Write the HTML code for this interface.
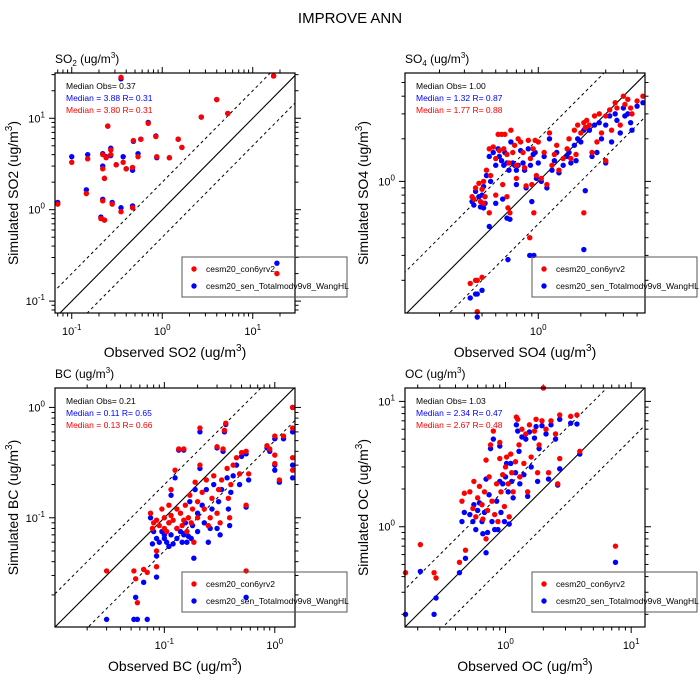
<!DOCTYPE html>
<html><head><meta charset="utf-8"><style>
html,body{margin:0;padding:0;background:#fff;width:700px;height:700px;overflow:hidden}
svg{display:block;font-family:"Liberation Sans",sans-serif}
</style></head><body>
<svg id="chart" width="700" height="700" viewBox="0 0 700 700" xmlns="http://www.w3.org/2000/svg">
<text x="350" y="23" font-size="15" text-anchor="middle">IMPROVE ANN</text>
</svg>
<script>
// SO2 panel data: observed, red sim, blue sim
const so2Obs=[0.07,0.1,0.15,0.145,0.21,0.23,0.22,0.22,0.23,0.22,0.24,0.25,0.27,0.27,0.28,0.31,0.35,0.35,0.37,0.4,0.47,0.47,0.48,0.54,0.58,0.7,0.85,0.87,1.2,1.5,1.65,2.7,4.0,5.3,17,18.5];
const so2Red=[1.15,3.3,3.6,1.5,0.8,0.77,2.8,4.0,2.2,1.25,3.7,8.2,4.5,4.0,1.15,3.1,0.95,28,3.3,2.8,2.9,1.05,5.7,3.8,5.9,8.8,6.3,3.8,3.7,5.9,4.8,10.3,16,11.3,29,0.2];
const so2Blue=[1.2,3.8,4.0,1.65,0.83,0.77,3.0,4.1,2.2,1.3,3.8,8.2,4.7,3.9,1.2,3.1,1.05,27,3.8,2.8,2.7,1.1,5.6,4.1,5.9,9.0,6.4,3.7,3.7,5.9,4.8,10.3,16,11.3,29,0.26];
// SO4
const so4Obs=[0.33,0.36,0.37,0.37,0.4,0.34,0.35,0.36,0.38,0.39,0.4,0.41,0.41,0.42,0.43,0.45,0.45,0.46,0.48,0.5,0.5,0.52,0.53,0.55,0.56,0.57,0.58,0.6,0.6,0.61,0.62,0.63,0.64,0.66,0.68,0.7,0.7,0.72,0.75,0.78,0.8,0.82,0.85,0.87,0.88,0.9,0.92,0.93,0.95,0.97,1.0,1.05,1.1,1.15,1.2,1.25,1.3,1.35,1.4,1.5,1.6,1.65,1.7,1.8,1.85,1.9,2.0,2.1,2.1,2.15,2.2,2.3,2.4,2.5,2.6,2.7,2.8,3.0,3.0,3.2,3.3,3.5,3.6,3.8,4.0,4.1,4.3,4.5,4.6,5.0,5.5];
const so4Red=[0.19,0.2,0.12,0.2,0.21,0.78,0.75,0.9,0.97,0.72,0.88,0.7,1.0,0.78,1.2,0.6,1.7,1.1,1.75,1.45,0.8,2.15,1.65,2.15,0.95,1.7,2.15,1.55,0.78,0.65,1.35,0.6,2.3,1.6,1.8,1.3,1.05,2.0,1.9,1.6,1.25,0.93,1.95,0.4,1.45,0.95,1.7,0.6,1.95,1.1,1.9,1.05,1.6,0.95,2.2,1.3,1.55,1.8,1.2,1.45,1.7,2.0,1.45,2.3,1.55,2.5,2.2,2.6,0.6,2.4,2.7,2.5,1.6,2.9,1.9,3.0,2.2,2.9,1.4,3.2,2.3,3.6,3.3,2.5,4.0,3.5,3.8,3.3,3.0,3.7,4.0];
const so4Blue=[0.15,0.16,0.11,0.16,0.17,0.72,0.68,0.85,0.78,0.66,0.8,0.65,0.92,0.7,1.1,0.48,1.5,1.0,1.6,1.3,0.7,1.7,1.5,1.4,0.75,1.3,1.6,1.35,0.55,0.28,1.2,0.54,1.9,1.35,1.3,1.2,0.95,1.3,1.65,1.35,1.2,0.9,1.7,0.3,1.3,0.72,1.55,0.3,1.6,1.05,1.35,1.0,1.5,0.9,2.0,1.2,1.4,1.6,1.15,1.3,1.5,1.6,1.35,1.8,1.4,2.0,1.9,2.3,0.33,0.86,2.4,2.3,1.5,2.5,1.6,2.6,2.0,2.5,1.35,2.9,1.9,3.0,2.7,2.2,3.3,2.9,3.0,2.6,2.3,3.4,3.6];
// BC
const bcObs=[0.03,0.053,0.055,0.057,0.065,0.07,0.085,0.085,0.075,0.078,0.08,0.085,0.09,0.095,0.1,0.1,0.105,0.11,0.11,0.115,0.115,0.12,0.125,0.13,0.13,0.135,0.14,0.145,0.15,0.15,0.155,0.16,0.165,0.17,0.175,0.18,0.185,0.19,0.2,0.2,0.21,0.21,0.22,0.23,0.24,0.25,0.26,0.27,0.28,0.3,0.3,0.31,0.32,0.33,0.34,0.35,0.36,0.37,0.38,0.39,0.4,0.42,0.45,0.48,0.5,0.55,0.55,0.55,0.58,0.85,0.9,1.0,1.0,1.0,1.1,1.2,1.45,1.45,1.45,1.45];
const bcRed=[0.033,0.033,0.028,0.017,0.034,0.032,0.036,0.05,0.11,0.08,0.09,0.095,0.085,0.12,0.08,0.1,0.075,0.13,0.09,0.18,0.105,0.095,0.27,0.08,0.12,0.42,0.11,0.085,0.42,0.095,0.13,0.075,0.1,0.16,0.09,0.12,0.06,0.21,0.1,0.14,0.65,0.3,0.17,0.12,0.22,0.085,0.1,0.15,0.24,0.11,0.44,0.18,0.09,0.22,0.42,0.62,0.72,0.28,0.15,0.1,0.2,0.3,0.35,0.25,0.39,0.13,0.4,0.033,0.25,0.45,0.42,0.55,0.37,0.31,0.22,0.55,1.0,0.65,0.35,0.27];
const bcBlue=[0.012,0.012,0.019,0.012,0.026,0.012,0.029,0.045,0.1,0.058,0.075,0.065,0.06,0.075,0.07,0.065,0.06,0.09,0.055,0.16,0.07,0.058,0.23,0.065,0.08,0.41,0.075,0.06,0.41,0.07,0.09,0.06,0.068,0.14,0.065,0.085,0.043,0.18,0.075,0.11,0.6,0.28,0.13,0.09,0.18,0.06,0.08,0.12,0.2,0.08,0.43,0.14,0.07,0.18,0.4,0.6,0.7,0.23,0.12,0.085,0.17,0.24,0.3,0.2,0.36,0.125,0.38,0.019,0.22,0.43,0.4,0.52,0.27,0.3,0.21,0.52,1.0,0.6,0.3,0.23];
// OC
const ocObs=[0.16,0.21,0.27,0.28,0.43,0.48,0.45,0.47,0.52,0.55,0.56,0.58,0.6,0.62,0.65,0.66,0.68,0.7,0.7,0.72,0.74,0.76,0.78,0.8,0.82,0.85,0.87,0.9,0.9,0.92,0.95,0.98,1.0,1.02,1.05,1.07,1.1,1.12,1.15,1.2,1.22,1.25,1.28,1.3,1.35,1.4,1.45,1.5,1.55,1.6,1.7,1.75,1.8,1.85,1.95,2.0,2.1,2.2,2.3,2.5,2.6,2.7,2.7,3.3,3.7,3.9,7.5];
const ocRed=[0.43,0.72,0.43,0.39,0.52,0.65,1.6,1.85,1.9,1.4,2.3,1.2,1.7,2.1,1.5,1.15,1.9,3.4,0.8,1.35,2.5,4.5,1.6,5.8,1.25,2.2,1.1,3.5,4.7,1.9,2.6,1.45,3.0,3.6,2.2,1.2,3.8,2.7,1.9,3.3,7.5,7.2,4.5,2.5,6.0,3.2,5.5,1.9,6.5,3.6,5.8,7.2,2.7,4.5,7.0,12.8,6.0,2.7,7.0,5.5,2.2,7.8,3.5,7.6,7.8,4.0,0.7];
const ocBlue=[0.2,0.44,0.2,0.27,0.43,0.56,1.1,1.3,1.25,1.1,1.5,0.95,1.35,1.55,1.1,0.88,1.3,2.4,0.62,0.9,1.8,4.2,1.1,5.0,0.95,1.6,0.95,2.3,4.4,1.3,2.2,1.1,2.5,3.2,1.9,1.05,3.2,2.3,1.7,2.7,6.5,5.8,4.0,2.2,5.2,2.6,5.0,1.75,5.7,3.0,5.1,6.3,2.3,4.2,6.4,12.8,5.5,2.4,6.5,5.0,2.15,7.2,2.9,6.7,6.6,3.8,0.52];

const NS='http://www.w3.org/2000/svg';
const svg=document.getElementById('chart');
function mk(tag,attrs,parent){const e=document.createElementNS(NS,tag);for(const k in attrs)e.setAttribute(k,attrs[k]);(parent||svg).appendChild(e);return e;}

const panels=[
 {key:'so2',title:'SO',sub:'2',name:'SO2',x0:55,y0:73,w:240,h:240,lx:[-1.185,1.467],ly:[-1.13,1.495],obs:so2Obs,red:so2Red,blue:so2Blue,stats:['Median Obs= 0.37','Median = 3.88 R= 0.31','Median = 3.80 R= 0.31']},
 {key:'so4',title:'SO',sub:'4',name:'SO4',x0:405,y0:73,w:240,h:240,lx:[-0.943,0.755],ly:[-0.93,0.766],obs:so4Obs,red:so4Red,blue:so4Blue,stats:['Median Obs= 1.00','Median = 1.32 R= 0.87','Median = 1.77 R= 0.88']},
 {key:'bc',title:'BC',sub:'',name:'BC',x0:55,y0:388,w:240,h:239,lx:[-1.99,0.183],ly:[-1.99,0.176],obs:bcObs,red:bcRed,blue:bcBlue,stats:['Median Obs= 0.21','Median = 0.11 R= 0.65','Median = 0.13 R= 0.66']},
 {key:'oc',title:'OC',sub:'',name:'OC',x0:405,y0:388,w:240,h:239,lx:[-0.80,1.11],ly:[-0.80,1.107],obs:ocObs,red:ocRed,blue:ocBlue,stats:['Median Obs= 1.03','Median = 2.34 R= 0.47','Median = 2.67 R= 0.48']}
];

panels.forEach(p=>{
 const g=mk('g',{});
 
 
 const X=v=>p.x0+(Math.log10(v)-p.lx[0])/(p.lx[1]-p.lx[0])*p.w;
 const Y=v=>p.y0+p.h-(Math.log10(v)-p.ly[0])/(p.ly[1]-p.ly[0])*p.h;
 const XL=l=>p.x0+(l-p.lx[0])/(p.lx[1]-p.lx[0])*p.w;
 const YL=l=>p.y0+p.h-(l-p.ly[0])/(p.ly[1]-p.ly[0])*p.h;
 const cp=mk('clipPath',{id:'cp-'+p.key},g);
 mk('rect',{x:p.x0,y:p.y0,width:p.w,height:p.h},cp);
 const lines=mk('g',{'clip-path':'url(#cp-'+p.key+')'},g);
 const lo=Math.min(p.lx[0],p.ly[0])-1, hi=Math.max(p.lx[1],p.ly[1])+1;
 [[0,'none','one-to-one-line'],[Math.log10(2),'3,3','upper-2x-line'],[-Math.log10(2),'3,3','lower-2x-line']].forEach(d=>{
  const l=mk('line',{x1:XL(lo),y1:YL(lo+d[0]),x2:XL(hi),y2:YL(hi+d[0]),stroke:'#000','stroke-width':d[1]==='none'?1.1:1,'stroke-dasharray':d[1]},lines);
  
  
 });
 const tg=mk('g',{stroke:'#000','stroke-width':1},g);
 for(let d=-3;d<=2;d++){for(let m=1;m<=9;m++){
  const l=d+Math.log10(m);const len=m===1?6:3.5;
  if(l>=p.lx[0]-1e-6&&l<=p.lx[1]+1e-6){const x=XL(l);
   mk('line',{x1:x,y1:p.y0+p.h,x2:x,y2:p.y0+p.h+len},tg);mk('line',{x1:x,y1:p.y0,x2:x,y2:p.y0-len},tg);
   if(m===1){const t=mk('text',{x:x,y:p.y0+p.h+22,'font-size':11,'text-anchor':'middle',stroke:'none'},g);t.innerHTML='10<tspan dy="-5" font-size="8">'+d+'</tspan>';
    }
  }
  if(l>=p.ly[0]-1e-6&&l<=p.ly[1]+1e-6){const y=YL(l);
   mk('line',{x1:p.x0,y1:y,x2:p.x0-len,y2:y},tg);mk('line',{x1:p.x0+p.w,y1:y,x2:p.x0+p.w+len,y2:y},tg);
   if(m===1){const t=mk('text',{x:p.x0-10,y:y+4,'font-size':11,'text-anchor':'end',stroke:'none'},g);t.innerHTML='10<tspan dy="-5" font-size="8">'+d+'</tspan>';
    }
  }
 }}
 const pg=mk('g',{},g);
 p.obs.forEach((o,i)=>{const c=mk('circle',{cx:X(o),cy:Y(p.blue[i]),r:2.7,fill:'#0000ff'},pg);
  });
 p.obs.forEach((o,i)=>{const c=mk('circle',{cx:X(o),cy:Y(p.red[i]),r:2.7,fill:'#ff0000'},pg);
  });
 const fr=mk('rect',{x:p.x0,y:p.y0,width:p.w,height:p.h,fill:'none',stroke:'#000','stroke-width':1.2},g);
 
 const tt=mk('text',{x:p.x0,y:p.y0-10,'font-size':12},g);
 tt.innerHTML=p.title+(p.sub?'<tspan dy="3" font-size="8">'+p.sub+'</tspan><tspan dy="-3"> (ug/m</tspan>':' (ug/m')+'<tspan dy="-5" font-size="8">3</tspan><tspan dy="5">)</tspan>';
 
 const xt=mk('text',{x:p.x0+p.w/2,y:p.y0+p.h+44,'font-size':14,'text-anchor':'middle'},g);
 xt.innerHTML='Observed '+p.name+' (ug/m<tspan dy="-6" font-size="10">3</tspan><tspan dy="6">)</tspan>';
 
 const yc=p.y0+p.h/2, yx=p.x0-37;
 const yt=mk('text',{x:yx,y:yc,'font-size':14,'text-anchor':'middle',transform:'rotate(-90 '+yx+' '+yc+')'},g);
 yt.innerHTML='Simulated '+p.name+' (ug/m<tspan dy="-6" font-size="10">3</tspan><tspan dy="6">)</tspan>';
 
 ['#000','#0000ff','#ff0000'].forEach((c,i)=>{const s=mk('text',{x:p.x0+11,y:p.y0+16+i*12,'font-size':8.5,fill:c},g);s.textContent=p.stats[i];
  });
 const lg=mk('g',{},g);
 
 const lx=p.x0+127, ly=p.y0+184;
 mk('rect',{x:lx,y:ly,width:165,height:40,fill:'none',stroke:'#555','stroke-width':1},lg);
 [['#ff0000','cesm20_con6yrv2',12],['#0000ff','cesm20_sen_Totalmodv9v8_WangHL',29]].forEach(e=>{
  const c=mk('circle',{cx:lx+12,cy:ly+e[2],r:2.7,fill:e[0]},lg);
  
  const t=mk('text',{x:lx+24,y:ly+e[2]+3,'font-size':8.5},lg);t.textContent=e[1];
  
 });
});
</script>
</body></html>
